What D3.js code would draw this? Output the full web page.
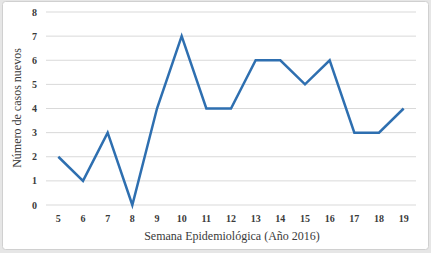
<!DOCTYPE html>
<html>
<head>
<meta charset="utf-8">
<script src="https://cdn.jsdelivr.net/npm/d3@7"></script>
<style>
  body { margin: 0; background: #e6e6e6; }
  text { font-family: "Liberation Serif", "Times New Roman", serif; fill: #3a3a3a; }
</style>
</head>
<body>
<svg id="chart" width="431" height="253"></svg>
<script>
// semana epidemiológica vs casos nuevos
var weeks = [5, 6, 7, 8, 9, 10, 11, 12, 13, 14, 15, 16, 17, 18, 19];
var cases = [2, 1, 3, 0, 4, 7, 4, 4, 6, 6, 5, 6, 3, 3, 4];
var yTicks = [0, 1, 2, 3, 4, 5, 6, 7, 8];

var svg = d3.select('#chart');

// white chart area with light border
svg.append('rect')
  .attr('x', 2.5).attr('y', 1.5)
  .attr('width', 426).attr('height', 248)
  .attr('rx', 3)
  .attr('fill', '#ffffff')
  .attr('stroke', '#d0d0d0');

var plotLeft = 46, plotRight = 416, plotTop = 12, plotBottom = 205;

var x = d3.scaleBand()
  .domain(weeks)
  .range([plotLeft, plotRight]);

var y = d3.scaleLinear()
  .domain([0, 8])
  .range([plotBottom, plotTop]);

// gridlines
svg.append('g')
  .selectAll('line')
  .data(yTicks)
  .enter().append('line')
  .attr('x1', plotLeft).attr('x2', plotRight)
  .attr('y1', function(d) { return y(d); })
  .attr('y2', function(d) { return y(d); })
  .attr('stroke', '#d9d9d9')
  .attr('stroke-width', 1);

// y tick labels
svg.append('g')
  .selectAll('text')
  .data(yTicks)
  .enter().append('text')
  .attr('x', 37)
  .attr('y', function(d) { return y(d) + 3.5; })
  .attr('text-anchor', 'end')
  .attr('font-size', 10)
  .attr('font-weight', 'bold')
  .text(function(d) { return d; });

// x tick labels
svg.append('g')
  .selectAll('text')
  .data(weeks)
  .enter().append('text')
  .attr('x', function(d) { return x(d) + x.bandwidth() / 2; })
  .attr('y', 222)
  .attr('text-anchor', 'middle')
  .attr('font-size', 10)
  .attr('font-weight', 'bold')
  .text(function(d) { return d; });

// line
var line = d3.line()
  .x(function(d, i) { return x(weeks[i]) + x.bandwidth() / 2; })
  .y(function(d) { return y(d); });

svg.append('path')
  .datum(cases)
  .attr('d', line)
  .attr('fill', 'none')
  .attr('stroke', '#2e6fb0')
  .attr('stroke-width', 2.5)
  .attr('stroke-linejoin', 'miter');

// axis titles
svg.append('text')
  .attr('x', 232)
  .attr('y', 240)
  .attr('text-anchor', 'middle')
  .attr('font-size', 12)
  .text('Semana Epidemiológica (Año 2016)');

svg.append('text')
  .attr('transform', 'translate(21,108) rotate(-90)')
  .attr('text-anchor', 'middle')
  .attr('font-size', 12)
  .text('Número de casos nuevos');
</script>
</body>
</html>
